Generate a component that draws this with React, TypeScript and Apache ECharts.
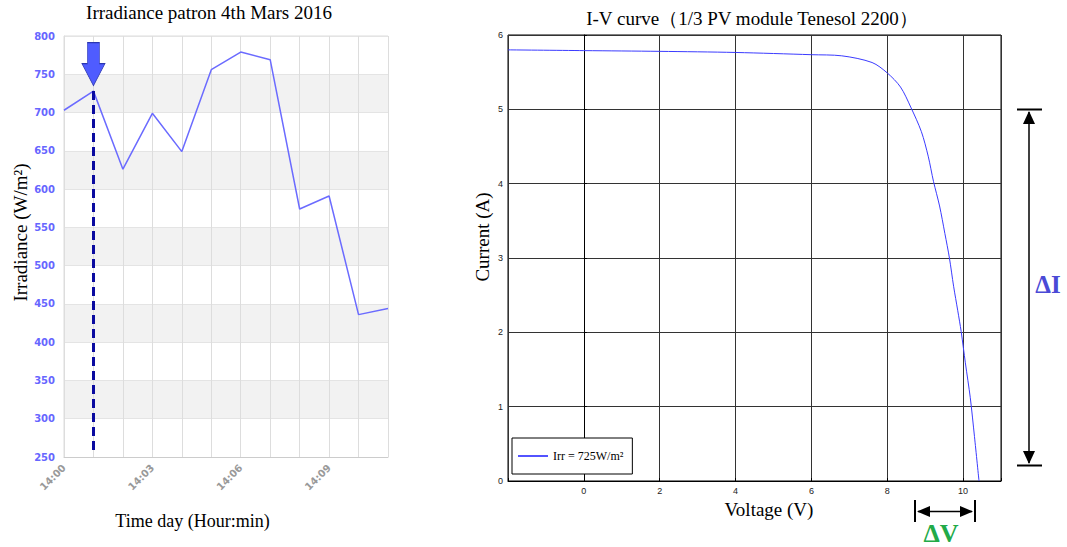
import React, { useEffect, useRef } from "react";
import * as echarts from "echarts";

const minuteLabels = ["14:00", "14:01", "14:02", "14:03", "14:04", "14:05", "14:06", "14:07", "14:08", "14:09", "14:10", "14:11"];
const irradiance = [703, 728, 626, 699, 649, 756, 779, 769, 574, 591, 436, 444];
const highlightIndex = 1;
const highlightFloor = 258;

const ivVoltage = [-2, 0, 2, 4, 6, 6.8, 7.6, 8.0, 8.35, 8.62, 8.9, 9.08, 9.22, 9.38, 9.52, 9.64, 9.75, 9.86, 9.95, 10.06, 10.19, 10.3, 10.42];
const ivCurrent = [5.8, 5.79, 5.78, 5.765, 5.735, 5.72, 5.63, 5.49, 5.3, 5.03, 4.7, 4.37, 4.03, 3.7, 3.33, 3.0, 2.62, 2.29, 2.01, 1.59, 1.12, 0.6, 0];
const legendName = "Irr = 725W/m\u00B2";

const SERIF = "Liberation Serif";

export default function App() {
  const ref = useRef<HTMLDivElement>(null);
  useEffect(() => {
    document.body.style.margin = "0";
    const chart = echarts.init(ref.current!, null, { renderer: "svg" });
    const ivData = ivVoltage.map((v, i) => [v, ivCurrent[i]]);
    chart.setOption({
      animation: false,
      backgroundColor: "#fff",
      title: [
        {
          text: "Irradiance patron 4th Mars 2016",
          left: 209,
          top: 3,
          padding: 0,
          textAlign: "center",
          textStyle: { fontFamily: SERIF, fontSize: 19, fontWeight: "normal", color: "#000" },
        },
        {
          text: "I-V curve\uFF081/3 PV module Tenesol 2200\uFF09",
          left: 752,
          top: 9,
          padding: 0,
          textAlign: "center",
          textStyle: { fontFamily: SERIF, fontSize: 19, fontWeight: "normal", color: "#000" },
        },
      ],
      legend: {
        data: [legendName],
        left: 512,
        top: 438,
        orient: "vertical",
        selectedMode: false,
        borderColor: "#000",
        borderWidth: 1,
        backgroundColor: "#fff",
        padding: [12, 9, 12, 6],
        itemWidth: 30,
        itemHeight: 1.5,
        itemGap: 0,
        icon: "rect",
        textStyle: { fontFamily: SERIF, fontSize: 12, color: "#000" },
      },
      grid: [
        { left: 64, top: 36, width: 324, height: 421, show: true, borderColor: "#dddddd", borderWidth: 1 },
        { left: 508, top: 35, width: 493, height: 446, show: true, borderColor: "#000", borderWidth: 1 },
      ],
      xAxis: [
        {
          gridIndex: 0,
          type: "category",
          data: minuteLabels,
          boundaryGap: false,
          axisLine: { lineStyle: { color: "#cccccc" } },
          axisTick: { show: false },
          axisLabel: {
            interval: 2,
            rotate: 45,
            margin: 9,
            color: "#999999",
            fontWeight: "bold",
            fontSize: 10,
            fontFamily: "DejaVu Sans",
          },
          splitLine: { show: true, interval: 0, lineStyle: { color: "#dddddd" } },
          name: "Time day (Hour:min)",
          nameLocation: "middle",
          nameGap: 55,
          nameTextStyle: { fontFamily: SERIF, fontSize: 18, color: "#000", padding: [0, 67, 0, 0] },
        },
        {
          gridIndex: 1,
          type: "value",
          min: -2,
          max: 11,
          interval: 2,
          axisLine: { lineStyle: { color: "#000" } },
          axisTick: { show: true, inside: true, length: 3, lineStyle: { color: "#000" } },
          axisLabel: {
            margin: 5,
            fontSize: 9,
            color: "#222",
            fontFamily: "Liberation Sans",
            formatter: (v: number) => (v === -2 || v === 11 ? "" : String(v)),
          },
          splitLine: { show: true, lineStyle: { color: "#333" } },
          name: "Voltage (V)",
          nameLocation: "middle",
          nameGap: 17,
          nameTextStyle: { fontFamily: SERIF, fontSize: 19, color: "#000", verticalAlign: "top", padding: [0, 0, 0, 29] },
        },
      ],
      yAxis: [
        {
          gridIndex: 0,
          type: "value",
          min: 250,
          max: 800,
          interval: 50,
          axisLine: { show: true, lineStyle: { color: "#dddddd" } },
          axisTick: { show: false },
          axisLabel: { margin: 9, color: "#6666ff", fontWeight: "bold", fontSize: 10, fontFamily: "DejaVu Sans" },
          splitLine: { show: true, lineStyle: { color: "#e4e4e4" } },
          splitArea: { show: true, areaStyle: { color: ["#ffffff", "#f2f2f2"] } },
          name: "Irradiance (W/m\u00B2)",
          nameLocation: "middle",
          nameGap: 33,
          nameTextStyle: { fontFamily: SERIF, fontSize: 19, color: "#000", padding: [0, 0, 0, 28] },
        },
        {
          gridIndex: 1,
          type: "value",
          min: 0,
          max: 6,
          interval: 1,
          axisLine: { show: true, lineStyle: { color: "#000" } },
          axisTick: { show: true, inside: true, length: 3, lineStyle: { color: "#000" } },
          axisLabel: { margin: 5, fontSize: 9, color: "#222", fontFamily: "Liberation Sans" },
          splitLine: { show: true, lineStyle: { color: "#333" } },
          name: "Current (A)",
          nameLocation: "middle",
          nameGap: 16,
          nameTextStyle: { fontFamily: SERIF, fontSize: 19, color: "#000", padding: [0, 0, 0, 42] },
        },
      ],
      series: [
        {
          name: "Irradiance",
          type: "line",
          xAxisIndex: 0,
          yAxisIndex: 0,
          data: irradiance,
          showSymbol: false,
          lineStyle: { color: "#6b6bff", width: 1.5 },
          itemStyle: { color: "#6b6bff" },
          markLine: {
            silent: true,
            symbol: "none",
            label: { show: false },
            lineStyle: { color: "#0a0aa0", width: 3, type: [9, 5] },
            data: [
              [
                { coord: [minuteLabels[highlightIndex], irradiance[highlightIndex]] },
                { coord: [minuteLabels[highlightIndex], highlightFloor] },
              ],
            ],
          },
          markPoint: {
            silent: true,
            symbol: "path://M5.5,0 H17.5 V21 H23 L11.5,43 L0,21 H5.5 Z",
            symbolSize: [23, 43],
            symbolOffset: [0, -27],
            label: { show: false },
            itemStyle: { color: "#4f5cff", borderColor: "#2a35b0", borderWidth: 0.8 },
            data: [{ coord: [minuteLabels[highlightIndex], irradiance[highlightIndex]] }],
          },
        },
        {
          name: legendName,
          type: "line",
          xAxisIndex: 1,
          yAxisIndex: 1,
          data: ivData,
          smooth: 0.3,
          showSymbol: false,
          lineStyle: { color: "#3b3bff", width: 1 },
          itemStyle: { color: "#1a1aff" },
        },
      ],
      graphic: [
        { type: "line", shape: { x1: 1029, y1: 112, x2: 1029, y2: 463 }, style: { stroke: "#000", lineWidth: 1.5 } },
        { type: "line", shape: { x1: 1017, y1: 109.5, x2: 1042, y2: 109.5 }, style: { stroke: "#000", lineWidth: 2 } },
        { type: "line", shape: { x1: 1017, y1: 465.5, x2: 1042, y2: 465.5 }, style: { stroke: "#000", lineWidth: 2 } },
        { type: "polygon", shape: { points: [[1029, 111], [1023, 124], [1035, 124]] }, style: { fill: "#000" } },
        { type: "polygon", shape: { points: [[1029, 464], [1023, 451], [1035, 451]] }, style: { fill: "#000" } },
        {
          type: "text",
          x: 1048,
          y: 284,
          style: { text: "\u0394I", fill: "#4a4ad6", fontFamily: SERIF, fontSize: 25, fontWeight: "bold", align: "center", verticalAlign: "middle" },
        },
        { type: "line", shape: { x1: 918, y1: 511.5, x2: 972, y2: 511.5 }, style: { stroke: "#000", lineWidth: 1.5 } },
        { type: "line", shape: { x1: 915, y1: 500, x2: 915, y2: 522 }, style: { stroke: "#000", lineWidth: 2 } },
        { type: "line", shape: { x1: 975, y1: 500, x2: 975, y2: 522 }, style: { stroke: "#000", lineWidth: 2 } },
        { type: "polygon", shape: { points: [[917, 511.5], [930, 506], [930, 517]] }, style: { fill: "#000" } },
        { type: "polygon", shape: { points: [[973, 511.5], [960, 506], [960, 517]] }, style: { fill: "#000" } },
        {
          type: "text",
          x: 941,
          y: 533,
          style: { text: "\u0394V", fill: "#22aa48", fontFamily: SERIF, fontSize: 26, fontWeight: "bold", align: "center", verticalAlign: "middle" },
        },
      ],
    });
    return () => chart.dispose();
  }, []);
  return <div ref={ref} style={{ width: 1067, height: 547 }} />;
}
